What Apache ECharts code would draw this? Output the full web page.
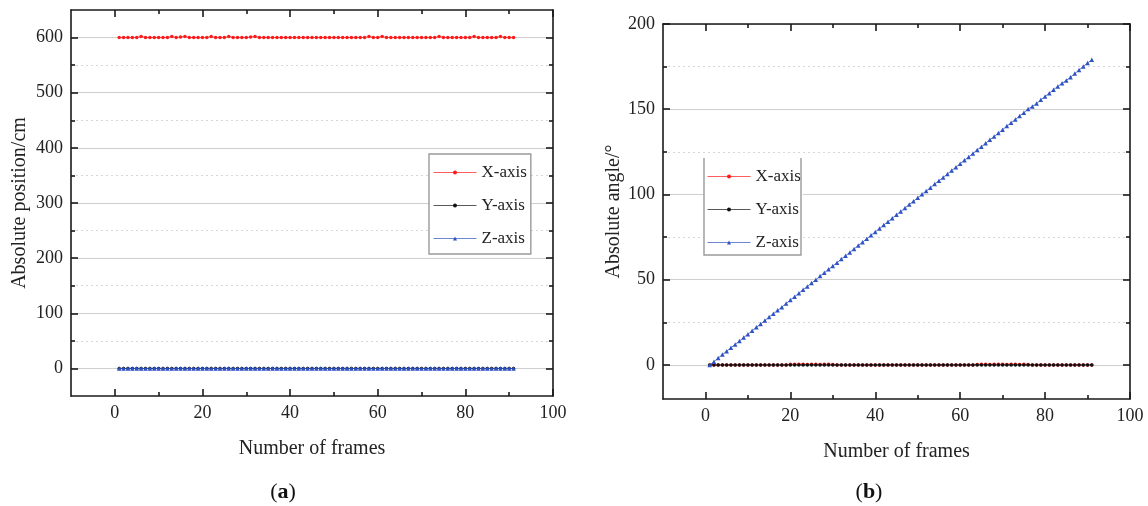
<!DOCTYPE html>
<html>
<head>
<meta charset="utf-8">
<script src="https://cdn.jsdelivr.net/npm/echarts@6/dist/echarts.min.js"></script>
<style>
html, body { margin: 0; padding: 0; background: #ffffff; }
#chart { width: 1148px; height: 506px; }
</style>
</head>
<body>
<div id="chart"></div>
<script>
// Frame numbers 1..91
const frames = Array.from({ length: 91 }, (_, i) => i + 1);

// (a) absolute position per frame, cm
const posX = [
  600, 600, 600, 600, 600, 602, 600, 600, 600, 600,
  600, 600, 602, 600, 601, 602, 600, 600, 600, 600,
  600, 602, 600, 600, 600, 602, 600, 600, 600, 600,
  601, 602, 600, 600, 600, 600, 600, 600, 600, 600,
  600, 600, 600, 600, 600, 600, 600, 600, 600, 600,
  600, 600, 600, 600, 600, 600, 600, 602, 600, 600,
  602, 600, 600, 600, 600, 600, 600, 600, 600, 600,
  600, 600, 600, 602, 600, 600, 600, 600, 600, 600,
  600, 602, 600, 600, 600, 600, 600, 602, 600, 600,
  600
];
const posY = [
  0, 0, 0, 0, 0, 0, 0, 0, 0, 0,
  0, 0, 0, 0, 0, 0, 0, 0, 0, 0,
  0, 0, 0, 0, 0, 0, 0, 0, 0, 0,
  0, 0, 0, 0, 0, 0, 0, 0, 0, 0,
  0, 0, 0, 0, 0, 0, 0, 0, 0, 0,
  0, 0, 0, 0, 0, 0, 0, 0, 0, 0,
  0, 0, 0, 0, 0, 0, 0, 0, 0, 0,
  0, 0, 0, 0, 0, 0, 0, 0, 0, 0,
  0, 0, 0, 0, 0, 0, 0, 0, 0, 0,
  0
];
const posZ = [
  0, 0, 0, 0, 0, 0, 0, 0, 0, 0,
  0, 0, 0, 0, 0, 0, 0, 0, 0, 0,
  0, 0, 0, 0, 0, 0, 0, 0, 0, 0,
  0, 0, 0, 0, 0, 0, 0, 0, 0, 0,
  0, 0, 0, 0, 0, 0, 0, 0, 0, 0,
  0, 0, 0, 0, 0, 0, 0, 0, 0, 0,
  0, 0, 0, 0, 0, 0, 0, 0, 0, 0,
  0, 0, 0, 0, 0, 0, 0, 0, 0, 0,
  0, 0, 0, 0, 0, 0, 0, 0, 0, 0,
  0
];

// (b) absolute angle per frame, degrees
const angX = [
  0, 0, 0, 0, 0, 0, 0, 0, 0, 0,
  0, 0, 0, 0, 0, 0, 0, 0, 0, 0.4,
  0.4, 0.4, 0.4, 0.3, 0.4, 0.4, 0.3, 0.4, 0.4, 0.3,
  0, 0, 0, 0, 0, 0, 0, 0, 0, 0,
  0, 0, 0, 0, 0, 0, 0, 0, 0, 0,
  0, 0, 0, 0, 0, 0, 0, 0, 0, 0,
  0, 0, 0, 0.3, 0.4, 0.4, 0.3, 0.4, 0.4, 0.4,
  0.3, 0.4, 0.4, 0.3, 0.4, 0.3, 0, 0, 0, 0,
  0, 0, 0, 0, 0, 0, 0, 0, 0, 0,
  0
];
const angY = [
  0, 0, 0, 0, 0, 0, 0, 0, 0, 0,
  0, 0, 0, 0, 0, 0, 0, 0, 0, 0,
  0, 0, 0, 0, 0, 0, 0, 0, 0, 0,
  0, 0, 0, 0, 0, 0, 0, 0, 0, 0,
  0, 0, 0, 0, 0, 0, 0, 0, 0, 0,
  0, 0, 0, 0, 0, 0, 0, 0, 0, 0,
  0, 0, 0, 0, 0, 0, 0, 0, 0, 0,
  0, 0, 0, 0, 0, 0, 0, 0, 0, 0,
  0, 0, 0, 0, 0, 0, 0, 0, 0, 0,
  0
];
const angZ = [
  0, 1.9, 4.0, 6.1, 8.0, 10.1, 12.0, 14.0, 16.1, 18.0,
  20.0, 22.1, 24.0, 26.0, 28.1, 30.0, 32.0, 33.9, 36.0, 38.1,
  40.0, 42.0, 44.1, 46.0, 48.0, 50.0, 52.1, 54.0, 56.1, 58.0,
  60.0, 62.1, 64.0, 66.0, 68.0, 70.1, 72.0, 74.0, 76.1, 78.0,
  80.0, 82.1, 84.0, 86.0, 88.1, 90.0, 92.0, 94.1, 96.0, 98.0,
  100.1, 102.0, 104.0, 106.1, 108.0, 110.0, 112.0, 114.1, 116.0, 118.0,
  120.1, 122.0, 124.0, 126.1, 128.0, 130.0, 132.1, 134.0, 136.0, 138.0,
  140.1, 142.0, 144.0, 146.1, 148.0, 150.2, 151.6, 153.4, 155.5, 157.5,
  159.4, 161.5, 163.4, 165.2, 166.9, 168.8, 170.9, 173.0, 175.1, 177.1,
  179.0
];

// Tick positions
const frameTicks = [0, 20, 40, 60, 80, 100];
const frameMinorTicks = [10, 30, 50, 70, 90];
const posTicks = [0, 100, 200, 300, 400, 500, 600];
const posMinorTicks = [50, 150, 250, 350, 450, 550];
const angTicks = [0, 50, 100, 150, 200];
const angMinorTicks = [25, 75, 125, 175];

const seriesNames = ['X-axis', 'Y-axis', 'Z-axis'];
const seriesColors = ['#ff1a1a', '#111111', '#2f52c4'];
const seriesSymbols = ['circle', 'circle', 'triangle'];

const FONT = 'Liberation Serif';
const INK = '#1a1a1a';

function pairs(values) {
  return frames.map((f, i) => [f, values[i]]);
}

// One value axis (bottom/top or left/right) with ticks at the given values
function axis(gridIndex, position, min, max, ticks, tickLen, opts) {
  opts = opts || {};
  return {
    type: 'value',
    gridIndex: gridIndex,
    position: position,
    min: min,
    max: max,
    axisLine: { show: !!opts.line, onZero: false, lineStyle: { color: INK, width: 1.6 } },
    axisTick: { show: true, inside: true, length: tickLen, customValues: ticks,
                lineStyle: { color: INK, width: 1.6 } },
    axisLabel: opts.labels
      ? { show: true, customValues: ticks, margin: 8, color: '#222', fontFamily: FONT, fontSize: 18 }
      : { show: false },
    splitLine: opts.split
      ? { show: true, lineStyle: opts.split }
      : { show: false },
    name: opts.name || '',
    nameLocation: 'middle',
    nameGap: opts.nameGap || 0,
    nameTextStyle: { color: '#222', fontFamily: FONT, fontSize: 20 },
    z: 5
  };
}

const majorGrid = { color: '#cfcfcf', width: 1, type: 'solid' };
const minorGrid = { color: '#d6d6d6', width: 1, type: [2, 3] };

const xAxes = [];
const yAxes = [];
[0, 1].forEach(g => {
  xAxes.push(axis(g, 'bottom', -10, 100, frameTicks, 7,
    { line: true, labels: true, name: 'Number of frames', nameGap: 43 }));
  xAxes.push(axis(g, 'bottom', -10, 100, frameMinorTicks, 4, {}));
  xAxes.push(axis(g, 'top', -10, 100, frameTicks, 7, { line: true }));
  xAxes.push(axis(g, 'top', -10, 100, frameMinorTicks, 4, {}));
});
// (a) position axes
yAxes.push(axis(0, 'left', -50, 650, posTicks, 7,
  { line: true, labels: true, split: majorGrid, name: 'Absolute position/cm', nameGap: 41 }));
yAxes.push(axis(0, 'left', -50, 650, posMinorTicks, 4, { split: minorGrid }));
yAxes.push(axis(0, 'right', -50, 650, posTicks, 7, { line: true }));
yAxes.push(axis(0, 'right', -50, 650, posMinorTicks, 4, {}));
// (b) angle axes
yAxes.push(axis(1, 'left', -20, 200, angTicks, 7,
  { line: true, labels: true, split: majorGrid, name: 'Absolute angle/°', nameGap: 39 }));
yAxes.push(axis(1, 'left', -20, 200, angMinorTicks, 4, { split: minorGrid }));
yAxes.push(axis(1, 'right', -20, 200, angTicks, 7, { line: true }));
yAxes.push(axis(1, 'right', -20, 200, angMinorTicks, 4, {}));

function lineSeries(idx, xAxisIndex, yAxisIndex, values) {
  return {
    type: 'line',
    name: seriesNames[idx],
    xAxisIndex: xAxisIndex,
    yAxisIndex: yAxisIndex,
    data: pairs(values),
    symbol: seriesSymbols[idx],
    symbolSize: idx === 2 ? 4.5 : 3.5,
    showSymbol: true,
    itemStyle: { color: seriesColors[idx] },
    lineStyle: { color: seriesColors[idx], width: 1, opacity: 0.75 },
    z: 10 + idx
  };
}

const series = [
  lineSeries(0, 0, 0, posX),
  lineSeries(1, 0, 0, posY),
  lineSeries(2, 0, 0, posZ),
  lineSeries(0, 4, 4, angX),
  lineSeries(1, 4, 4, angY),
  lineSeries(2, 4, 4, angZ)
];

const legendText = { color: '#222', fontFamily: FONT, fontSize: 17 };
const legendLine = { width: 1, type: 'solid', opacity: 0.7 };

const option = {
  animation: false,
  backgroundColor: '#ffffff',
  grid: [
    { left: 71, top: 10, width: 482, height: 386 },
    { left: 663, top: 24, width: 467, height: 375 }
  ],
  xAxis: xAxes,
  yAxis: yAxes,
  legend: [
    {
      z: 30,
      left: 429, top: 154, orient: 'vertical',
      data: seriesNames,
      itemWidth: 43, itemHeight: 5, itemGap: 16,
      padding: [10, 4, 7, 4],
      backgroundColor: '#ffffff',
      borderColor: '#9a9a9a', borderWidth: 1.4,
      lineStyle: legendLine,
      textStyle: legendText,
      selectedMode: false
    },
    {
      z: 30,
      left: 704, top: 158, orient: 'vertical',
      data: seriesNames,
      itemWidth: 43, itemHeight: 5, itemGap: 16,
      padding: [10, 2, 7, 3],
      backgroundColor: '#ffffff',
      borderWidth: 0,
      lineStyle: legendLine,
      textStyle: legendText,
      selectedMode: false
    }
  ],
  graphic: [
    {
      type: 'polyline',
      shape: { points: [[704, 158], [704, 255], [801, 255], [801, 158]] },
      style: { stroke: '#9a9a9a', lineWidth: 1.4, fill: null },
      z: 100
    },
    {
      type: 'text', x: 283, y: 492,
      style: {
        text: '{n|(}{b|a}{n|)}', align: 'center', verticalAlign: 'middle',
        rich: {
          n: { fontFamily: FONT, fontSize: 22, fill: '#111' },
          b: { fontFamily: FONT, fontSize: 22, fontWeight: 'bold', fill: '#111' }
        }
      }
    },
    {
      type: 'text', x: 869, y: 492,
      style: {
        text: '{n|(}{b|b}{n|)}', align: 'center', verticalAlign: 'middle',
        rich: {
          n: { fontFamily: FONT, fontSize: 22, fill: '#111' },
          b: { fontFamily: FONT, fontSize: 22, fontWeight: 'bold', fill: '#111' }
        }
      }
    }
  ],
  series: series
};

const chart = echarts.init(document.getElementById('chart'), null, { renderer: 'canvas' });
chart.setOption(option);
</script>
</body>
</html>
